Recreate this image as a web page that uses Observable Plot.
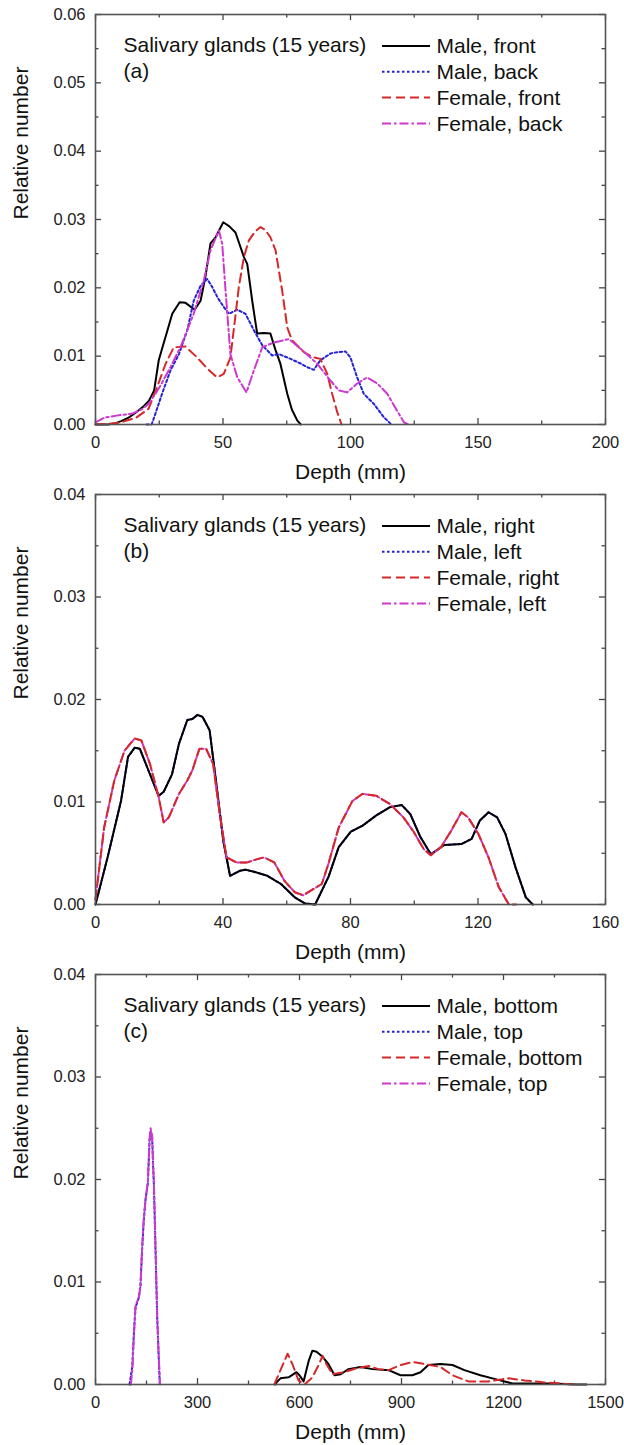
<!DOCTYPE html>
<html><head><meta charset="utf-8">
<script src="https://cdn.jsdelivr.net/npm/d3@7"></script>
<script src="https://cdn.jsdelivr.net/npm/@observablehq/plot@0.6"></script>
<style>body{margin:0;background:#fff} #chart svg{display:block}</style>
</head><body><div id="chart"></div>
<script>
// ---------- Panel (a): front / back ----------
const aXTicks = [0, 50, 100, 150, 200];
const aXMinor = [25, 75, 125, 175];
const aYTicks = [0, 0.01, 0.02, 0.03, 0.04, 0.05, 0.06];
const aYMinor = [0.005, 0.015, 0.025, 0.035, 0.045, 0.055];
const aLabels = ["Male, front", "Male, back", "Female, front", "Female, back"];
const aMaleFront = [[0,0],[5,0],[8,0.0002],[10,0.0005],[13,0.001],[16,0.0018],[19,0.0027],[21,0.0035],[23,0.005],[24.8,0.0094],[26.1,0.0111],[28,0.0135],[30.1,0.0162],[33,0.0179],[35.3,0.0178],[38.9,0.0168],[41.2,0.0181],[43.1,0.0216],[45.1,0.0265],[47.1,0.0274],[50.1,0.0296],[52.5,0.029],[54.9,0.0281],[58.2,0.0245],[59.5,0.0235],[61.5,0.018],[63.4,0.0133],[66,0.0134],[68.6,0.0133],[70.5,0.011],[72.5,0.0089],[75.2,0.0045],[77,0.0022],[79.1,0.0006],[80.5,0]];
const aMaleBack = [[20,0],[22,0],[23.5,0.0016],[26.1,0.0045],[29.4,0.0079],[32.7,0.0103],[36,0.0138],[38.5,0.0181],[41.2,0.0203],[43.8,0.0213],[45.8,0.0201],[48,0.0185],[50.3,0.0172],[52.3,0.0162],[55.6,0.0168],[58.8,0.0162],[62.1,0.0138],[65.4,0.0116],[69.3,0.0101],[72,0.0103],[76.5,0.0096],[80,0.009],[83,0.0084],[85.6,0.008],[88.2,0.0094],[92.2,0.0104],[95,0.0106],[98,0.0107],[100,0.0098],[102.6,0.0069],[105.2,0.0045],[109.2,0.003],[113,0.0011],[116,0]];
const aFemaleFront = [[0,0],[5,0.0001],[9.8,0.0003],[16,0.001],[20.8,0.0023],[24.2,0.0055],[27.5,0.0089],[30.7,0.0113],[35.3,0.0114],[39.9,0.0098],[43.8,0.0082],[47.7,0.0069],[50.3,0.0074],[52.9,0.0098],[54.2,0.0138],[56.2,0.0201],[58.2,0.0245],[60.1,0.0269],[62.5,0.0282],[64.7,0.0289],[66.5,0.0285],[68.6,0.0274],[70.6,0.0255],[73.2,0.0196],[75.2,0.0142],[77.1,0.0123],[81.7,0.0106],[85,0.0099],[88.2,0.0096],[90.9,0.0074],[92.8,0.0045],[94.8,0.0018],[96.5,0]];
const aFemaleBack = [[0,0.0003],[3.5,0.001],[8.2,0.0013],[14.5,0.0016],[18,0.0022],[20.8,0.003],[23,0.0042],[25.5,0.0057],[29.4,0.0084],[33.3,0.0113],[38.5,0.0162],[42.5,0.0211],[45.1,0.0255],[48.4,0.0284],[49.7,0.0264],[51,0.0196],[52.9,0.0103],[55.6,0.0069],[59.2,0.0047],[62.1,0.0079],[65.4,0.0113],[69.9,0.012],[75.8,0.0125],[80.4,0.0111],[86.9,0.0089],[92.2,0.0064],[95.4,0.005],[98.7,0.0047],[102.6,0.006],[106.5,0.0069],[110.5,0.006],[114.4,0.0045],[118.3,0.002],[121,0.0003],[123,0]];

// ---------- Panel (b): right / left ----------
const bXTicks = [0, 40, 80, 120, 160];
const bXMinor = [20, 60, 100, 140];
const bYTicks = [0, 0.01, 0.02, 0.03, 0.04];
const bYMinor = [0.005, 0.015, 0.025, 0.035];
const bLabels = ["Male, right", "Male, left", "Female, right", "Female, left"];
const bMaleRight = [[0,0],[3.8,0.0046],[8,0.0101],[10.2,0.0144],[12.3,0.0153],[13.9,0.0152],[17.1,0.0127],[19.8,0.0106],[21.4,0.011],[24,0.0127],[26.2,0.0157],[28.8,0.018],[30.4,0.0181],[32,0.0185],[33.6,0.0183],[35.8,0.017],[37.9,0.0118],[40.1,0.0062],[42.2,0.0028],[45.4,0.0033],[47,0.0034],[49.7,0.0032],[53.9,0.0028],[58.2,0.002],[62.5,0.0007],[65.7,0.0001],[68.9,0],[73.1,0.0027],[76.3,0.0056],[80.1,0.0071],[83.8,0.0077],[88.1,0.0087],[92.4,0.0095],[96.1,0.0097],[98.8,0.0088],[101.9,0.0066],[105.2,0.0049],[109.4,0.0058],[114.8,0.0059],[118,0.0064],[120.6,0.0082],[123.3,0.009],[126,0.0085],[128.6,0.0069],[131.8,0.0036],[135,0.0007],[137.2,0]];
const bMaleLeft = [[0,0],[3.8,0.0046],[8,0.0101],[10.2,0.0144],[12.3,0.0153],[13.9,0.0152],[17.1,0.0127],[19.8,0.0106],[21.4,0.011],[24,0.0127],[26.2,0.0157],[28.8,0.018],[30.4,0.0181],[32,0.0185],[33.6,0.0183],[35.8,0.017],[37.9,0.0118],[40.1,0.0062],[42.2,0.0028],[45.4,0.0033],[47,0.0034],[49.7,0.0032],[53.9,0.0028],[58.2,0.002],[62.5,0.0007],[65.7,0.0001],[68.9,0],[73.1,0.0027],[76.3,0.0056],[80.1,0.0071],[83.8,0.0077],[88.1,0.0087],[92.4,0.0095],[96.1,0.0097],[98.8,0.0088],[101.9,0.0066],[105.2,0.0049],[109.4,0.0058],[114.8,0.0059],[118,0.0064],[120.6,0.0082],[123.3,0.009],[126,0.0085],[128.6,0.0069],[131.8,0.0036],[135,0.0007],[137.2,0]];
const bFemaleRight = [[0,0.0005],[2.7,0.0075],[5.9,0.0121],[9.1,0.015],[12.3,0.0162],[14.4,0.016],[17.1,0.0137],[19.8,0.0105],[21.4,0.008],[23,0.0085],[26.2,0.0108],[28.8,0.0121],[30.4,0.0131],[32.6,0.0152],[34.7,0.0152],[36.9,0.0137],[39,0.0088],[41.1,0.0046],[44.3,0.0041],[47.5,0.0041],[50.5,0.0044],[52.9,0.0046],[56.1,0.0041],[59.3,0.0023],[62.5,0.0012],[65.1,0.0009],[67.8,0.0014],[71,0.002],[73.1,0.004],[76.3,0.0075],[80.6,0.0101],[83.8,0.0108],[88.1,0.0106],[92.4,0.0098],[96.6,0.0085],[99.8,0.0071],[103,0.0054],[105.2,0.0048],[108.4,0.0056],[111.6,0.0072],[114.8,0.009],[116.9,0.0085],[120.1,0.0069],[123.3,0.0046],[126.5,0.0017],[129.7,0],[132,0]];
const bFemaleLeft = [[0,0.0005],[2.7,0.0075],[5.9,0.0121],[9.1,0.015],[12.3,0.0162],[14.4,0.016],[17.1,0.0137],[19.8,0.0105],[21.4,0.008],[23,0.0085],[26.2,0.0108],[28.8,0.0121],[30.4,0.0131],[32.6,0.0152],[34.7,0.0152],[36.9,0.0137],[39,0.0088],[41.1,0.0046],[44.3,0.0041],[47.5,0.0041],[50.5,0.0044],[52.9,0.0046],[56.1,0.0041],[59.3,0.0023],[62.5,0.0012],[65.1,0.0009],[67.8,0.0014],[71,0.002],[73.1,0.004],[76.3,0.0075],[80.6,0.0101],[83.8,0.0108],[88.1,0.0106],[92.4,0.0098],[96.6,0.0085],[99.8,0.0071],[103,0.0054],[105.2,0.0048],[108.4,0.0056],[111.6,0.0072],[114.8,0.009],[116.9,0.0085],[120.1,0.0069],[123.3,0.0046],[126.5,0.0017],[129.7,0]];

// ---------- Panel (c): bottom / top ----------
const cXTicks = [0, 300, 600, 900, 1200, 1500];
const cXMinor = [150, 450, 750, 1050, 1350];
const cYTicks = [0, 0.01, 0.02, 0.03, 0.04];
const cYMinor = [0.005, 0.015, 0.025, 0.035];
const cLabels = ["Male, bottom", "Male, top", "Female, bottom", "Female, top"];
const cMaleBottom = [[530,0],[532,0.0002],[544,0.0006],[568,0.0007],[591,0.0012],[600,0.0009],[612,0.0003],[627,0.0023],[638,0.0033],[650,0.0032],[668,0.0027],[685,0.002],[703,0.0009],[721,0.001],[744,0.0015],[779,0.0017],[815,0.0015],[862,0.0014],[897,0.0009],[932,0.0009],[956,0.0012],[979,0.0019],[1015,0.002],[1050,0.0019],[1085,0.0014],[1132,0.0009],[1179,0.0005],[1226,0.0001],[1285,0.0001],[1344,0.0001],[1415,0],[1444,0]];
const cMaleTop = [[100,0],[108,0.0017],[112.7,0.0049],[117.6,0.0075],[127.5,0.0085],[132,0.0095],[137,0.0131],[142,0.016],[147,0.018],[154,0.0196],[159,0.0238],[162,0.0247],[166.7,0.0241],[169.6,0.0212],[171.6,0.0196],[176.5,0.0131],[181.4,0.0066],[186.3,0.0023],[189,0]];
const cFemaleBottom = [[526,0],[544,0.0014],[565,0.003],[579,0.002],[597,0.0004],[615,0],[638,0.0007],[656,0.0019],[668,0.0028],[679,0.002],[697,0.001],[732,0.0012],[768,0.0016],[803,0.0018],[832,0.0015],[862,0.0014],[897,0.0019],[932,0.0022],[968,0.002],[1015,0.0017],[1050,0.0009],[1097,0.0003],[1156,0.0003],[1215,0.0006],[1262,0.0004],[1321,0.0002],[1368,0.0001],[1403,0]];
const cFemaleTop = [[104,0],[109,0.0017],[113,0.0049],[118,0.0077],[128,0.0086],[132.5,0.0097],[137,0.0133],[142,0.0162],[147,0.018],[154,0.0198],[159,0.024],[162,0.025],[166.5,0.0243],[169.5,0.0214],[171.8,0.0196],[176.8,0.0131],[181.6,0.0066],[186.6,0.0023],[190,0]];

const titleText = "Salivary glands (15 years)";
const xTitle = "Depth (mm)";
const yTitle = "Relative number";

// ---------- styles ----------
const FONT = '"Liberation Sans", Arial, Helvetica, sans-serif';
const STYLES = [
  {color: "#000000", dash: null},
  {color: "#2323d8", dash: "2.5,2.5"},
  {color: "#d62828", dash: "9,5"},
  {color: "#cf38cf", dash: "9,3,2.5,3"}
];
const BIG = 21;

function panel({tag, xTicks, xMinor, yTicks, yMinor, labels, series, order, extra = 0}) {
  const W = 624, mt = 14, ml = 95, mr = 19, mb = 56 + extra, ih = 410;
  const H = mt + ih + mb;
  const iw = W - ml - mr;
  const tk = {stroke: "#444", strokeWidth: 1.3};
  const id = d => d;
  const txt = {textAnchor: "start", lineAnchor: "middle", fontSize: BIG, fill: "#111"};
  const marks = [
    Plot.tickX(xTicks, {x: id, insetTop: ih - 6, ...tk}),
    Plot.tickX(xTicks, {x: id, insetBottom: ih - 6, ...tk}),
    Plot.tickX(xMinor, {x: id, insetTop: ih - 3.5, ...tk}),
    Plot.tickX(xMinor, {x: id, insetBottom: ih - 3.5, ...tk}),
    Plot.tickY(yTicks, {y: id, insetRight: iw - 6, ...tk}),
    Plot.tickY(yTicks, {y: id, insetLeft: iw - 6, ...tk}),
    Plot.tickY(yMinor, {y: id, insetRight: iw - 3.5, ...tk}),
    Plot.tickY(yMinor, {y: id, insetLeft: iw - 3.5, ...tk})
  ];
  for (const i of order) {
    marks.push(Plot.line(series[i], {
      x: d => d[0], y: d => d[1], stroke: STYLES[i].color, strokeWidth: 2,
      strokeDasharray: STYLES[i].dash, strokeLinejoin: "round"
    }));
  }
  marks.push(Plot.frame({stroke: "#555", strokeWidth: 1.6}));
  marks.push(Plot.text([titleText], {frameAnchor: "top-left", dx: 28, dy: 31, ...txt}));
  marks.push(Plot.text([tag], {frameAnchor: "top-left", dx: 28, dy: 57, ...txt}));
  labels.forEach((l, i) => {
    marks.push(Plot.text([l], {frameAnchor: "top-left", dx: 341, dy: 32 + i * 25.8, ...txt}));
  });
  marks.push(Plot.text([xTitle], {frameAnchor: "bottom", dy: 48, lineAnchor: "middle", fontSize: BIG, fill: "#111"}));
  marks.push(Plot.text([yTitle], {frameAnchor: "left", dx: -74, rotate: -90, lineAnchor: "middle", fontSize: BIG, fill: "#111"}));

  const svg = Plot.plot({
    width: W, height: H,
    marginLeft: ml, marginRight: mr, marginTop: mt, marginBottom: mb,
    style: {fontFamily: FONT, fontSize: "16.5px", background: "#fff", color: "#222", overflow: "visible"},
    x: {domain: [xTicks[0], xTicks[xTicks.length - 1]], ticks: xTicks, tickSize: 0, tickPadding: 12, tickFormat: d => String(d), label: null},
    y: {domain: [yTicks[0], yTicks[yTicks.length - 1]], ticks: yTicks, tickSize: 0, tickPadding: 10, tickFormat: d3.format(".2f"), label: null},
    marks
  });
  // legend swatches
  const g = d3.select(svg).append("g");
  STYLES.forEach((s, i) => {
    const yy = mt + 32 + i * 25.8;
    g.append("line").attr("x1", 382).attr("x2", 430).attr("y1", yy).attr("y2", yy)
      .attr("stroke", s.color).attr("stroke-width", 2)
      .attr("stroke-dasharray", s.dash);
  });
  return svg;
}

const root = document.getElementById("chart");
root.appendChild(panel({tag: "(a)", xTicks: aXTicks, xMinor: aXMinor, yTicks: aYTicks, yMinor: aYMinor, labels: aLabels,
  series: [aMaleFront, aMaleBack, aFemaleFront, aFemaleBack], order: [0, 1, 2, 3]}));
root.appendChild(panel({tag: "(b)", xTicks: bXTicks, xMinor: bXMinor, yTicks: bYTicks, yMinor: bYMinor, labels: bLabels,
  series: [bMaleRight, bMaleLeft, bFemaleRight, bFemaleLeft], order: [1, 0, 3, 2]}));
root.appendChild(panel({tag: "(c)", xTicks: cXTicks, xMinor: cXMinor, yTicks: cYTicks, yMinor: cYMinor, labels: cLabels,
  series: [cMaleBottom, cMaleTop, cFemaleBottom, cFemaleTop], order: [0, 2, 1, 3], extra: 5}));
</script>
</body></html>
